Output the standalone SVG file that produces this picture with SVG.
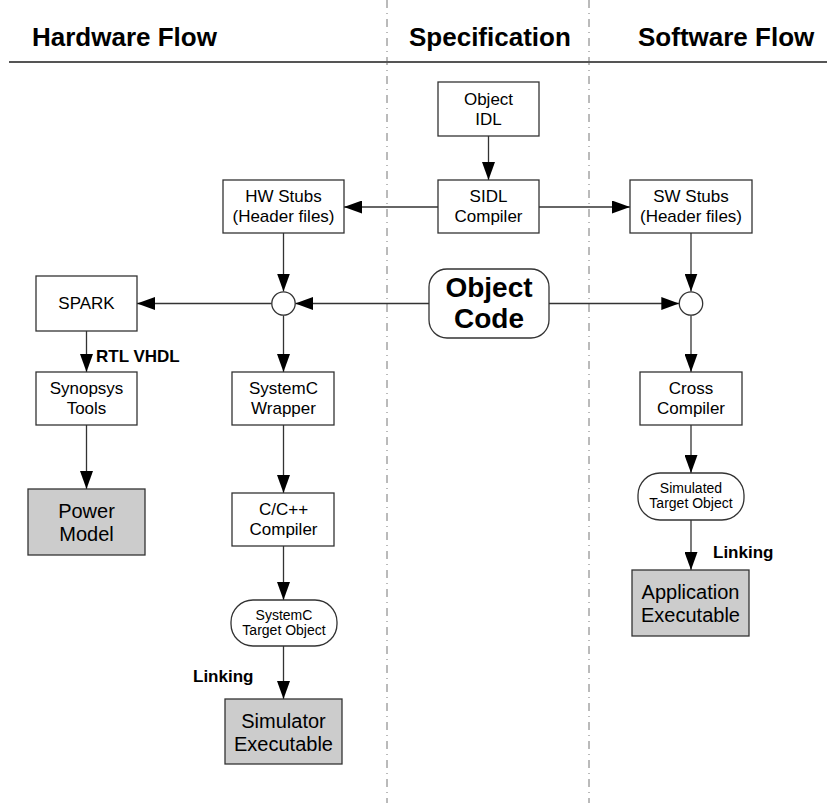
<svg xmlns="http://www.w3.org/2000/svg" width="827" height="803" viewBox="0 0 827 803">
  <defs>
    <marker id="arrow" markerUnits="userSpaceOnUse" markerWidth="18" markerHeight="13" refX="18" refY="6.5" orient="auto">
      <path d="M0,0 L18,6.5 L0,13 Z" fill="#000"/>
    </marker>
    <style>
      text { font-family: "Liberation Sans", Arial, sans-serif; fill: #000; }
      .hdr { font-size: 26px; font-weight: bold; }
      .lbl { font-size: 17px; text-anchor: middle; }
      .big { font-size: 20px; text-anchor: middle; }
      .small { font-size: 14px; text-anchor: middle; }
      .bold { font-size: 17px; font-weight: bold; }
      .box { fill: #fff; stroke: #333; stroke-width: 1.3; }
      .out { fill: #cccccc; stroke: #333; stroke-width: 1.3; }
      .lane { stroke: #777; stroke-width: 1; stroke-dasharray: 8 5 1 5; fill: none; }
      .edge { stroke: #333; stroke-width: 1.3; fill: none; marker-end: url(#arrow); }
    </style>
  </defs>

  <!-- swim lanes and headings -->
  <g id="lanes">
    <line class="lane" x1="387" y1="0" x2="387" y2="803"/>
    <line class="lane" x1="589" y1="0" x2="589" y2="803"/>
    <line x1="9" y1="62" x2="827" y2="62" stroke="#555" stroke-width="2"/>
    <text class="hdr" x="32" y="46">Hardware Flow</text>
    <text class="hdr" x="409" y="46">Specification</text>
    <text class="hdr" x="638" y="46">Software Flow</text>
  </g>

  <!-- connectors -->
  <g id="connectors">
    <line class="edge" x1="488.5" y1="136" x2="488.5" y2="180"/>
    <line class="edge" x1="438" y1="207" x2="344" y2="207"/>
    <line class="edge" x1="539" y1="207" x2="630" y2="207"/>
    <line class="edge" x1="283.5" y1="233" x2="283.5" y2="291.5"/>
    <line class="edge" x1="691" y1="233" x2="691" y2="291.5"/>
    <line class="edge" x1="429" y1="303.5" x2="295.2" y2="303.5"/>
    <line class="edge" x1="549" y1="303.5" x2="679.3" y2="303.5"/>
    <line class="edge" x1="271.8" y1="303.5" x2="137" y2="303.5"/>
    <line class="edge" x1="283.5" y1="315.2" x2="283.5" y2="372"/>
    <line class="edge" x1="691" y1="315.2" x2="691" y2="372"/>
    <line class="edge" x1="86.5" y1="331" x2="86.5" y2="372"/>
    <line class="edge" x1="86.5" y1="425" x2="86.5" y2="489"/>
    <line class="edge" x1="283.5" y1="425" x2="283.5" y2="493"/>
    <line class="edge" x1="283.5" y1="546" x2="283.5" y2="600"/>
    <line class="edge" x1="283.5" y1="646" x2="283.5" y2="699"/>
    <line class="edge" x1="691" y1="425" x2="691" y2="473"/>
    <line class="edge" x1="691" y1="520" x2="691" y2="570"/>
    <text class="bold" x="96" y="362">RTL VHDL</text>
    <text class="bold" x="193" y="682">Linking</text>
    <text class="bold" x="713" y="558">Linking</text>
  </g>

  <g id="object-idl">
    <rect class="box" x="438" y="82" width="101" height="54"/>
    <text class="lbl" x="488.5" y="105">Object</text>
    <text class="lbl" x="488.5" y="125">IDL</text>
  </g>

  <g id="sidl-compiler">
    <rect class="box" x="438" y="180" width="101" height="53"/>
    <text class="lbl" x="488.5" y="202">SIDL</text>
    <text class="lbl" x="488.5" y="222">Compiler</text>
  </g>

  <g id="hw-stubs">
    <rect class="box" x="223" y="180" width="121" height="53"/>
    <text class="lbl" x="283.5" y="202">HW Stubs</text>
    <text class="lbl" x="283.5" y="222">(Header files)</text>
  </g>

  <g id="sw-stubs">
    <rect class="box" x="630" y="180" width="122" height="53"/>
    <text class="lbl" x="691" y="202">SW Stubs</text>
    <text class="lbl" x="691" y="222">(Header files)</text>
  </g>

  <g id="object-code">
    <rect class="box" x="429" y="269" width="120" height="69" rx="18" ry="18"/>
    <text x="489" y="297" font-size="28" font-weight="bold" text-anchor="middle">Object</text>
    <text x="489" y="328" font-size="28" font-weight="bold" text-anchor="middle">Code</text>
  </g>

  <g id="hw-join">
    <circle class="box" cx="283.5" cy="303.5" r="11.7"/>
  </g>

  <g id="sw-join">
    <circle class="box" cx="691" cy="303.5" r="11.7"/>
  </g>

  <g id="spark">
    <rect class="box" x="36" y="276" width="101" height="55"/>
    <text class="lbl" x="86.5" y="309">SPARK</text>
  </g>

  <g id="synopsys-tools">
    <rect class="box" x="36" y="372" width="101" height="53"/>
    <text class="lbl" x="86.5" y="394">Synopsys</text>
    <text class="lbl" x="86.5" y="414">Tools</text>
  </g>

  <g id="power-model">
    <rect class="out" x="28" y="489" width="117" height="66"/>
    <text class="big" x="86.5" y="518">Power</text>
    <text class="big" x="86.5" y="541">Model</text>
  </g>

  <g id="systemc-wrapper">
    <rect class="box" x="232" y="372" width="102" height="53"/>
    <text class="lbl" x="283.5" y="394">SystemC</text>
    <text class="lbl" x="283.5" y="414">Wrapper</text>
  </g>

  <g id="cpp-compiler">
    <rect class="box" x="232" y="493" width="102" height="53"/>
    <text class="lbl" x="283.5" y="515">C/C++</text>
    <text class="lbl" x="283.5" y="535">Compiler</text>
  </g>

  <g id="systemc-target-object">
    <rect class="box" x="231" y="600" width="106" height="46" rx="22" ry="22"/>
    <text class="small" x="284" y="620">SystemC</text>
    <text class="small" x="284" y="635">Target Object</text>
  </g>

  <g id="simulator-executable">
    <rect class="out" x="225" y="699" width="117" height="65"/>
    <text class="big" x="283.5" y="728">Simulator</text>
    <text class="big" x="283.5" y="751">Executable</text>
  </g>

  <g id="cross-compiler">
    <rect class="box" x="640" y="372" width="102" height="53"/>
    <text class="lbl" x="691" y="394">Cross</text>
    <text class="lbl" x="691" y="414">Compiler</text>
  </g>

  <g id="simulated-target-object">
    <rect class="box" x="638" y="473" width="106" height="47" rx="22" ry="22"/>
    <text class="small" x="691" y="493">Simulated</text>
    <text class="small" x="691" y="508">Target Object</text>
  </g>

  <g id="application-executable">
    <rect class="out" x="632" y="570" width="117" height="66"/>
    <text class="big" x="690.5" y="599">Application</text>
    <text class="big" x="690.5" y="622">Executable</text>
  </g>
</svg>
